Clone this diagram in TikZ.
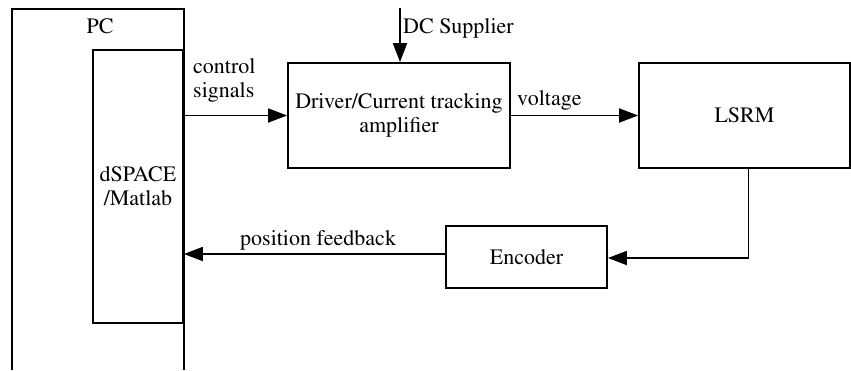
\documentclass[tikz,border=0pt]{standalone}
\usepackage[T1]{fontenc}
\renewcommand{\rmdefault}{ptm}
\usetikzlibrary{arrows.meta,positioning}
\tikzset{
  block/.style={draw, line width=1.8pt, inner sep=0pt, align=center},
  flow/.style={line width=1.8pt, -{Triangle[length=19pt,width=14pt]}},
  lbl/.style={inner sep=0pt},
}

\begin{document}
\begin{tikzpicture}[x=1pt,y=-1pt,font=\fontsize{22}{24}\selectfont]
  \useasboundingbox (0,0) rectangle (851,370);
  % PC frame runs off the bottom
  \draw[line width=1.8pt] (12,370) -- (12,9) -- (184,9) -- (184,370);
  \node[lbl, anchor=base] (pc) at (100,33) {PC};
  % blocks
  \node[block, minimum width=90pt, minimum height=273pt] (dspace) at (138,186.5) {dSPACE\\/Matlab};
  \node[block, minimum width=222pt, minimum height=105pt] (driver) at (399,115.5) {Driver/Current tracking\\amplifier};
  \node[block, minimum width=211pt, minimum height=105pt] (lsrm) at (744.5,115.5) {LSRM};
  \node[block, minimum width=161pt, minimum height=62pt] (encoder) at (526.5,257) {Encoder};
  % forward path
  \coordinate (dc) at (400,8);
  \draw[flow] (dc) -- (dc |- driver.north);
  \draw[flow] (dspace.east |- driver.west) -- (driver.west);
  \draw[flow] (driver.east) -- (lsrm.west);
  % feedback path
  \draw[flow] ([xshift=4pt]lsrm.south) |- ([yshift=-1pt]encoder.east);
  \coordinate (fb) at ([yshift=3pt]encoder.west);
  \draw[flow] (fb) -- (fb -| dspace.east);
  % labels
  \node[lbl, anchor=north west, align=left] (ctrl) at (193,58) {control\\signals};
  \node[lbl, anchor=base west] (dcs) at (403,33) {DC Supplier};
  \node[lbl, anchor=base west] (volt) at (517,105) {voltage};
  \node[lbl, anchor=base west] (pos) at (240,245) {position feedback};
\end{tikzpicture}
\end{document}
